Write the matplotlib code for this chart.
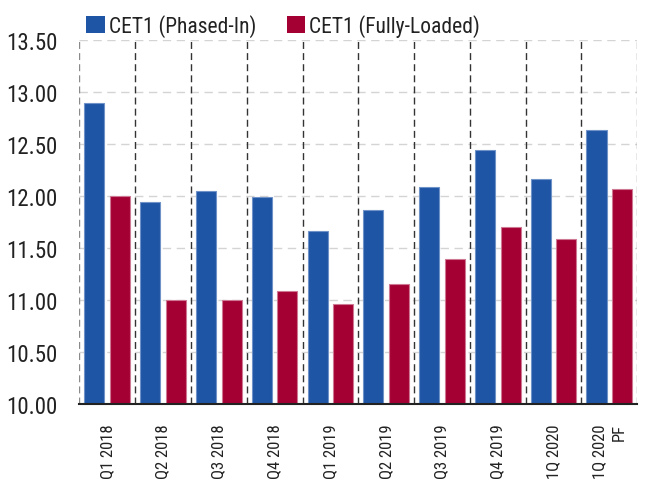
import matplotlib
matplotlib.use("Agg")
import matplotlib.pyplot as plt
from matplotlib import font_manager as fm
from matplotlib.patches import Patch
import numpy as np

categories = ["Q1 2018", "Q2 2018", "Q3 2018", "Q4 2018", "Q1 2019",
              "Q2 2019", "Q3 2019", "Q4 2019", "1Q 2020", "1Q 2020\nPF"]
phased_in = [12.89, 11.94, 12.05, 11.99, 11.66, 11.86, 12.09, 12.44, 12.16, 12.63]
fully_loaded = [12.00, 11.00, 11.00, 11.09, 10.96, 11.15, 11.39, 11.70, 11.59, 12.07]
yticks = [10.00, 10.50, 11.00, 11.50, 12.00, 12.50, 13.00, 13.50]
series_names = ["CET1 (Phased-In)", "CET1 (Fully-Loaded)"]

names = {f.name for f in fm.fontManager.ttflist}
family = "DejaVu Sans"
stretch = "normal"
for cand in ["Roboto Condensed", "Liberation Sans Narrow", "DejaVu Sans Condensed"]:
    if cand in names:
        family = cand
        break
else:
    stretch = "condensed"
plt.rcParams["font.family"] = [family, "DejaVu Sans"]
plt.rcParams["font.stretch"] = stretch

BLUE = "#1f55a5"
RED = "#a50034"

fig = plt.figure(figsize=(6.45, 4.81), dpi=100)
ax = fig.add_axes([0.123, 0.158, 0.865, 0.757])

x = np.arange(len(categories))
w = 0.36
off = 0.23
ax.bar(x - off, phased_in, width=w, color=BLUE, edgecolor="#6f93c8", linewidth=0.8, zorder=3)
ax.bar(x + off, fully_loaded, width=w, color=RED, edgecolor="#cf7894", linewidth=0.8, zorder=3)

ax.set_xlim(-0.5, len(categories) - 0.5)
ax.set_ylim(10.0, 13.5)
ax.set_yticks(yticks)
ax.set_yticklabels([f"{v:.2f}" for v in yticks], fontsize=16.5, color="#222222")
ax.set_xticks(x)
ax.set_xticklabels(categories, rotation=90, fontsize=12, color="#222222",
                   multialignment="right", linespacing=1.4)
ax.tick_params(axis="both", length=0)
ax.tick_params(axis="y", pad=16)
ax.tick_params(axis="x", pad=14)

for yv in yticks:
    ax.axhline(yv, color="#d4d4d4", linestyle=(0, (6, 4)), linewidth=1.0, zorder=1)
for i in range(len(categories) + 1):
    xv = i - 0.5
    if i == 0 or i == len(categories):
        c = "#8a8a8a"
    else:
        c = "#333333"
    ax.axvline(xv, color=c, linestyle=(0, (5, 3)), linewidth=1.0, zorder=2)

for s in ["top", "right", "left"]:
    ax.spines[s].set_visible(False)
ax.spines["bottom"].set_color("#222222")
ax.spines["bottom"].set_linewidth(1.5)
ax.spines["bottom"].set_zorder(4)

handles = [Patch(facecolor=BLUE), Patch(facecolor=RED)]
fig.legend(handles, series_names, loc="center left", bbox_to_anchor=(0.134, 0.944),
           ncol=2, frameon=False, fontsize=15.5, handlelength=0.85, handleheight=0.85,
           handletextpad=0.2, columnspacing=1.4, borderaxespad=0, borderpad=0,
           labelcolor="#222222")

fig.savefig("out.png", dpi=100)
